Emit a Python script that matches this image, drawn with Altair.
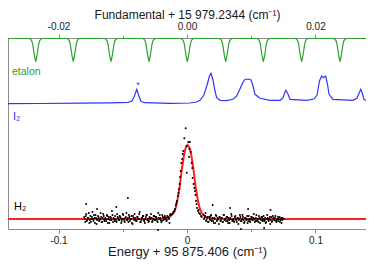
import altair as alt
import pandas as pd

# ---------------- data ----------------
bottom_domain = [-0.1393, 0.1393]      # Energy + 95 875.406 (cm-1)
top_domain = [-0.02786, 0.02786]       # Fundamental + 15 979.2344 (cm-1)
y_domain = [2, 193]                    # arbitrary stacked intensity

# etalon transmission (top axis units)
etalon_x = [-0.02786,
    -0.02448, -0.02417, -0.02402, -0.02386, -0.02371, -0.02355, -0.02339, -0.02324, -0.02308, -0.02293, -0.02262,
    -0.01863, -0.01832, -0.01817, -0.01801, -0.01786, -0.01770, -0.01754, -0.01739, -0.01723, -0.01708, -0.01677,
    -0.01276, -0.01245, -0.01230, -0.01214, -0.01199, -0.01183, -0.01167, -0.01152, -0.01136, -0.01121, -0.01090,
    -0.00684, -0.00653, -0.00638, -0.00622, -0.00607, -0.00591, -0.00575, -0.00560, -0.00544, -0.00529, -0.00498,
    -0.00088, -0.00057, -0.00042, -0.00026, -0.00011, 0.00005, 0.00021, 0.00036, 0.00052, 0.00067, 0.00098,
    0.00509, 0.00540, 0.00555, 0.00571, 0.00586, 0.00602, 0.00618, 0.00633, 0.00649, 0.00664, 0.00695,
    0.01095, 0.01126, 0.01141, 0.01157, 0.01172, 0.01188, 0.01204, 0.01219, 0.01235, 0.01250, 0.01281,
    0.01692, 0.01723, 0.01738, 0.01754, 0.01769, 0.01785, 0.01801, 0.01816, 0.01832, 0.01847, 0.01878,
    0.02288, 0.02319, 0.02334, 0.02350, 0.02365, 0.02381, 0.02397, 0.02412, 0.02428, 0.02443, 0.02474,
    0.02786]
etalon_y = [192.5,
    192.5, 190.5, 187, 180, 174, 169.5, 174, 180, 187, 190.5, 192.5,
    192.7, 190.5, 187, 180, 174, 169.5, 174, 180, 187, 190.5, 192.6,
    192.5, 190.5, 187, 180, 174, 169.5, 174, 180, 187, 190.5, 192.5,
    192.6, 190.5, 187, 180, 174, 169.5, 174, 180, 187, 190.5, 192.5,
    192.5, 190.5, 187, 180, 174, 169.5, 174, 180, 187, 190.5, 192.7,
    192.5, 190.5, 187, 180, 174, 169.5, 174, 180, 187, 190.5, 192.5,
    192.6, 190.5, 187, 180, 174, 169.5, 174, 180, 187, 190.5, 192.5,
    192.5, 190.5, 187, 180, 174, 169.5, 174, 180, 187, 190.5, 192.6,
    192.5, 190.5, 187, 180, 174, 169.5, 174, 180, 187, 190.5, 192.5,
    192.5]

# I2 absorption trace (bottom axis units)
i2_x = [-0.1393, -0.1144, -0.0833, -0.0599, -0.0459, -0.0428, -0.0409, -0.0391, -0.0377, -0.0358,
        -0.0327, -0.0132, 0.0023, 0.0075, 0.0101, 0.0132, 0.0156, 0.0175, 0.0187, 0.0202,
        0.0218, 0.0231, 0.0257, 0.0304, 0.0358, 0.0387, 0.0412, 0.0436, 0.0451, 0.0475,
        0.0498, 0.0514, 0.0529, 0.0568, 0.0646, 0.0724, 0.0747, 0.0763, 0.0770, 0.0782,
        0.0802, 0.0932, 0.0988, 0.1012, 0.1031, 0.1048, 0.1061, 0.1079, 0.1093, 0.1105,
        0.1136, 0.1292, 0.1323, 0.1352, 0.1366, 0.1377, 0.1409, 0.1437]
i2_y = [127.4, 127.5, 127.8, 128.2, 128.7, 130, 135, 141.7, 136, 129.5,
        128.3, 127.7, 128, 129, 130.7, 136, 146, 155, 157.7, 151,
        140, 133.3, 130.7, 130.4, 131.7, 135, 142, 149, 151.5, 152,
        151, 145, 136.7, 132.7, 130.7, 130.7, 133, 139, 140.7, 138,
        131.7, 130.7, 132, 136, 150, 155, 153.3, 155, 147, 137,
        131.7, 130.7, 133, 141.7, 137, 131.7, 129.5, 129]

# H2 fitted profile (bottom axis units)
fit_x = [-0.1393, -0.0306, -0.0190, -0.0135, -0.0104, -0.0088, -0.0073, -0.0057, -0.0042, -0.0026,
         -0.0011, 0.0005, 0.0021, 0.0036, 0.0052, 0.0067, 0.0083, 0.0098, 0.0114, 0.0145,
         0.0200, 0.0316, 0.1393]
fit_y = [12, 12, 12.5, 14, 18, 23, 32, 44, 60, 74,
         83, 86, 83, 74, 60, 44, 32, 23, 18, 14,
         12.5, 12, 12]

# H2 measured points (bottom axis units)
h2_left_x = [-0.0800, -0.0792, -0.0784, -0.0776, -0.0768, -0.0760, -0.0752, -0.0744, -0.0736, -0.0728,
             -0.0720, -0.0712, -0.0704, -0.0696, -0.0688, -0.0680, -0.0672, -0.0664, -0.0656, -0.0648,
             -0.0640, -0.0632, -0.0624, -0.0616, -0.0608, -0.0600, -0.0592, -0.0584, -0.0576, -0.0568,
             -0.0560, -0.0552, -0.0544, -0.0536, -0.0528, -0.0520, -0.0512, -0.0504, -0.0496, -0.0488,
             -0.0480, -0.0472, -0.0464, -0.0456, -0.0448, -0.0440, -0.0432, -0.0424, -0.0416, -0.0408,
             -0.0400, -0.0392, -0.0384, -0.0376, -0.0368, -0.0360, -0.0352, -0.0344, -0.0336, -0.0328,
             -0.0320, -0.0312, -0.0304, -0.0296, -0.0288, -0.0280, -0.0272, -0.0264, -0.0256, -0.0248,
             -0.0240, -0.0232, -0.0224, -0.0216, -0.0208, -0.0200, -0.0192, -0.0184, -0.0176, -0.0168,
             -0.0160, -0.0152, -0.0144, -0.0136, -0.0128]
h2_left_y = [14, 9, 17, 11, 13, 8, 15, 12, 19, 10,
             13, 16, 7, 12, 14, 11, 18, 9, 13, 15,
             10, 12, 16, 8, 14, 11, 13, 20, 9, 12,
             15, 10, 17, 13, 11, 14, 8, 12, 16, 10,
             13, 18, 11, 9, 14, 12, 15, 7, 13, 17,
             11, 10, 14, 12, 19, 9, 13, 15, 11, 8,
             14, 16, 12, 10, 13, 17, 9, 12, 15, 11,
             14, 10, 18, 12, 13, 9, 16, 11, 14, 12,
             10, 15, 13, 8, 17]
h2_left2_x = [-0.0796, -0.0788, -0.0780, -0.0772, -0.0764, -0.0756, -0.0748, -0.0740, -0.0732, -0.0724,
              -0.0716, -0.0708, -0.0700, -0.0692, -0.0684, -0.0676, -0.0668, -0.0660, -0.0652, -0.0644,
              -0.0636, -0.0628, -0.0620, -0.0612, -0.0604, -0.0596, -0.0588, -0.0580, -0.0572, -0.0564,
              -0.0556, -0.0548, -0.0540, -0.0532, -0.0524, -0.0516, -0.0508, -0.0500, -0.0492, -0.0484,
              -0.0476, -0.0468, -0.0460, -0.0452, -0.0444, -0.0436, -0.0428, -0.0420, -0.0412, -0.0404,
              -0.0396, -0.0388, -0.0380, -0.0372, -0.0364, -0.0356, -0.0348, -0.0340, -0.0332, -0.0324,
              -0.0316, -0.0308, -0.0300, -0.0292, -0.0284, -0.0276, -0.0268, -0.0260, -0.0252, -0.0244,
              -0.0236, -0.0228, -0.0220, -0.0212, -0.0204, -0.0196, -0.0188, -0.0180, -0.0172, -0.0164,
              -0.0156, -0.0148, -0.0140, -0.0132]
h2_left2_y = [12, 15, 10, 13, 18, 11, 9, 14, 12, 16,
              8, 13, 11, 15, 10, 12, 14, 9, 17, 11,
              13, 10, 15, 12, 8, 14, 11, 16, 13, 10,
              12, 9, 14, 11, 15, 13, 10, 17, 12, 9,
              14, 11, 13, 16, 10, 12, 8, 15, 11, 13,
              10, 14, 12, 17, 9, 11, 13, 15, 10, 12,
              16, 11, 9, 14, 12, 13, 10, 15, 11, 14,
              12, 9, 13, 16, 11, 10, 14, 12, 15, 13,
              11, 14, 12, 16]
h2_peak_x = [-0.0010, -0.0021, 0.0010, 0.0023, -0.0004, 0.0019, -0.0029, -0.0033, 0.0016, -0.0044,
             -0.0002, -0.0049, 0.0037, 0.0041, -0.0054, 0.0044, -0.0057, 0.0051, -0.0062, 0.0057,
             -0.0070, 0.0066, -0.0078, 0.0070, -0.0086, 0.0078, -0.0093, 0.0086, -0.0109, 0.0093,
             -0.0125, 0.0109, -0.0097, 0.0101, -0.0115, -0.0105, -0.0082, -0.0066, 0.0062, 0.0075,
             0.0090, 0.0115, -0.0038, 0.0030]
h2_peak_y = [102.7, 92.7, 89, 89, 85, 82, 80, 77, 74, 68,
             58.3, 60, 68, 63, 54, 53, 47, 47, 42, 43,
             35, 36, 30, 30, 26, 23, 22, 20, 18, 18,
             16, 15, 20, 17, 17, 19, 28, 38, 40, 27,
             21, 14, 72, 79]
h2_right_x = [0.0128, 0.0136, 0.0144, 0.0152, 0.0160, 0.0168, 0.0176, 0.0184, 0.0192, 0.0200,
              0.0208, 0.0216, 0.0224, 0.0232, 0.0240, 0.0248, 0.0256, 0.0264, 0.0272, 0.0280,
              0.0288, 0.0296, 0.0304, 0.0312, 0.0320, 0.0328, 0.0336, 0.0344, 0.0352, 0.0360,
              0.0368, 0.0376, 0.0384, 0.0392, 0.0400, 0.0408, 0.0416, 0.0424, 0.0432, 0.0440,
              0.0448, 0.0456, 0.0464, 0.0472, 0.0480, 0.0488, 0.0496, 0.0504, 0.0512, 0.0520,
              0.0528, 0.0536, 0.0544, 0.0552, 0.0560, 0.0568, 0.0576, 0.0584, 0.0592, 0.0600,
              0.0608, 0.0616, 0.0624, 0.0632, 0.0640, 0.0648, 0.0656, 0.0664, 0.0672, 0.0680,
              0.0688, 0.0696, 0.0704, 0.0712, 0.0720, 0.0728, 0.0736, 0.0744, 0.0752]
h2_right_y = [16, 13, 18, 11, 14, 9, 12, 15, 10, 13,
              8, 12, 16, 10, 13, 7, 14, 11, 13, 9,
              16, 12, 10, 14, 8, 11, 13, 17, 10, 12,
              9, 15, 11, 13, 7, 12, 14, 10, 16, 11,
              9, 13, 12, 8, 15, 10, 12, 14, 11, 17,
              9, 13, 10, 12, 15, 8, 11, 14, 12, 10,
              13, 9, 16, 11, 12, 7, 14, 10, 13, 11,
              15, 9, 12, 10, 14, 11, 8, 13, 12]
h2_right2_x = [0.0132, 0.0140, 0.0148, 0.0156, 0.0164, 0.0172, 0.0180, 0.0188, 0.0196, 0.0204,
               0.0212, 0.0220, 0.0228, 0.0236, 0.0244, 0.0252, 0.0260, 0.0268, 0.0276, 0.0284,
               0.0292, 0.0300, 0.0308, 0.0316, 0.0324, 0.0332, 0.0340, 0.0348, 0.0356, 0.0364,
               0.0372, 0.0380, 0.0388, 0.0396, 0.0404, 0.0412, 0.0420, 0.0428, 0.0436, 0.0444,
               0.0452, 0.0460, 0.0468, 0.0476, 0.0484, 0.0492, 0.0500, 0.0508, 0.0516, 0.0524,
               0.0532, 0.0540, 0.0548, 0.0556, 0.0564, 0.0572, 0.0580, 0.0588, 0.0596, 0.0604,
               0.0612, 0.0620, 0.0628, 0.0636, 0.0644, 0.0652, 0.0660, 0.0668, 0.0676, 0.0684,
               0.0692, 0.0700, 0.0708, 0.0716, 0.0724, 0.0732, 0.0740, 0.0748]
h2_right2_y = [12, 15, 10, 13, 9, 14, 11, 16, 12, 10,
               13, 8, 15, 11, 12, 14, 10, 13, 9, 16,
               11, 12, 14, 10, 13, 8, 12, 15, 11, 10,
               14, 12, 9, 13, 11, 16, 10, 12, 14, 8,
               13, 11, 15, 10, 12, 9, 14, 11, 13, 12,
               10, 16, 11, 9, 13, 12, 14, 10, 15, 11,
               8, 12, 13, 10, 14, 11, 9, 15, 12, 13,
               10, 11, 14, 12, 9, 13, 11, 12]
h2_extra_x = [-0.0785, -0.0460, -0.0225, -0.0700, -0.0550, 0.0200, 0.0335, 0.0475, 0.0420, 0.0600, 0.0650]
h2_extra_y = [27, 33, 1, 22, 24, 26, 23, 22, 2, 3, 21]

# annotations
label_text = ["etalon", "I\u2082", "H\u2082", "*"]
label_x = [-0.1362, -0.1354, -0.1346, -0.0395]
label_y = [156, 111, 21, 143]
label_color = ["#2ca02c", "#3333ff", "#000000", "#3333ff"]
label_size = [10.5, 11, 11, 9]

GREEN = "#2ca02c"
BLUE = "#3333ff"
RED = "#ff2020"

# ---------------- tables ----------------
etalon_df = pd.DataFrame({"f": etalon_x, "y": etalon_y})
i2_df = pd.DataFrame({"x": i2_x, "y": i2_y})
fit_df = pd.DataFrame({"x": fit_x, "y": fit_y})
pts_df = pd.DataFrame({
    "x": h2_left_x + h2_left2_x + h2_peak_x + h2_right_x + h2_right2_x + h2_extra_x,
    "y": h2_left_y + h2_left2_y + h2_peak_y + h2_right_y + h2_right2_y + h2_extra_y,
})
lab_df = pd.DataFrame({"x": label_x, "y": label_y, "t": label_text,
                       "c": label_color, "s": label_size})

# ---------------- encodings ----------------
x_bottom = alt.X(
    "x:Q",
    scale=alt.Scale(domain=bottom_domain, nice=False, zero=False),
    axis=alt.Axis(
        orient="bottom",
        values=[-0.1, -0.05, 0, 0.05, 0.1],
        labelExpr="abs(datum.value) < 0.001 ? '0' : (abs(datum.value - 0.1) < 0.001 ? '0.1' : (abs(datum.value + 0.1) < 0.001 ? '-0.1' : ''))",
        title="Energy + 95 875.406 (cm\u207b\u00b9)",
        titleFontSize=13,
        tickSize={"condition": {"test": "abs(datum.value) < 0.001 || abs(abs(datum.value) - 0.1) < 0.001", "value": 4}, "value": 2.5},
        labelPadding=2,
        titleY=26.5,
        titleBaseline="alphabetic",
    ),
)
y_enc = alt.Y("y:Q", scale=alt.Scale(domain=y_domain, nice=False, zero=False), axis=None)

red = alt.Chart(fit_df).mark_line(color=RED, strokeWidth=2, clip=True).encode(x=x_bottom, y=y_enc)
blue = alt.Chart(i2_df).mark_line(color=BLUE, strokeWidth=1.2, clip=True).encode(x=x_bottom, y=y_enc)
pts = alt.Chart(pts_df).mark_circle(color="black", size=4, opacity=1).encode(x=x_bottom, y=y_enc)
labels = alt.Chart(lab_df).mark_text(align="left", baseline="alphabetic", font="Liberation Sans").encode(
    x=x_bottom, y=y_enc, text="t:N",
    color=alt.Color("c:N", scale=None),
    size=alt.Size("s:Q", scale=None),
)

bottom_group = alt.layer(red, blue, pts, labels)

x_top = alt.X(
    "f:Q",
    scale=alt.Scale(domain=top_domain, nice=False, zero=False),
    axis=alt.Axis(
        orient="top",
        values=[-0.02, -0.01, 0, 0.01, 0.02],
        labelExpr="abs(datum.value) < 0.0001 ? '0.00' : (abs(datum.value - 0.02) < 0.0001 ? '0.02' : (abs(datum.value + 0.02) < 0.0001 ? '-0.02' : ''))",
        title="Fundamental + 15 979.2344 (cm\u207b\u00b9)",
        titleFontSize=12,
        tickSize={"condition": {"test": "abs(datum.value) < 0.0001 || abs(abs(datum.value) - 0.02) < 0.0001", "value": 4}, "value": 2.5},
        labelPadding=3,
        titleY=-19.5,
        titleBaseline="alphabetic",
    ),
)
etalon = alt.Chart(etalon_df).mark_line(color=GREEN, strokeWidth=1.2, clip=True).encode(x=x_top, y=y_enc)

chart = (
    alt.layer(bottom_group, etalon)
    .resolve_scale(x="independent")
    .properties(width=358, height=191, padding={"left": 0, "top": 0, "right": 0, "bottom": 0})
    .configure_view(stroke="#8c8c8c", strokeWidth=1)
    .configure_axis(
        domain=False, grid=False, tickColor="#8c8c8c", tickWidth=1,
        labelFont="Liberation Sans", labelFontSize=10, labelColor="#1a1a1a",
        titleFont="Liberation Sans", titleFontWeight="normal", titleColor="#1a1a1a",
    )
)

chart.save("out.html", embed_options={"renderer": "svg", "actions": False})
